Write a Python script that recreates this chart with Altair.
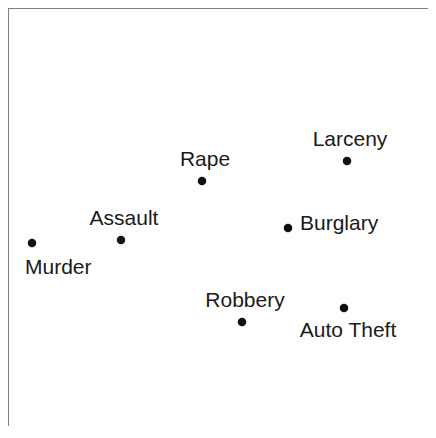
import altair as alt
import pandas as pd

# Crime categories and their positions on the two map dimensions
crimes = ["Murder", "Assault", "Rape", "Larceny", "Burglary", "Robbery", "Auto Theft"]
dim1 = [24, 113, 194, 339, 280, 234, 336]
dim2 = [195, 198, 257, 277, 210, 116, 130]

# where each label sits relative to its dot
label_side = {
    "Murder": "below_left",
    "Assault": "above",
    "Rape": "above",
    "Larceny": "above",
    "Burglary": "right",
    "Robbery": "above",
    "Auto Theft": "below",
}

df = pd.DataFrame({"crime": crimes, "d1": dim1, "d2": dim2})
df["side"] = df["crime"].map(label_side)

W, H = 420, 418
FONT = "Liberation Sans"

xs = alt.Scale(domain=[0, W], nice=False, zero=False)
ys = alt.Scale(domain=[430 - H, 430], nice=False, zero=False)

base = alt.Chart(df).encode(
    x=alt.X("d1:Q", scale=xs, axis=None),
    y=alt.Y("d2:Q", scale=ys, axis=None),
)

dots = base.mark_point(filled=True, size=72, color="#111111", opacity=1)

def labels(side, **kw):
    return base.transform_filter(alt.datum.side == side).mark_text(
        font=FONT, fontSize=21, color="#1a1a1a", **kw
    ).encode(text="crime:N")

above = labels("above", align="center", baseline="alphabetic", dx=3, dy=-15)
below = labels("below", align="center", baseline="alphabetic", dx=4, dy=29)
below_left = labels("below_left", align="left", baseline="alphabetic", dx=-7, dy=31)
right = labels("right", align="left", baseline="alphabetic", dx=12, dy=2)

left_border = alt.Chart(df).mark_rule(color="#808080", strokeWidth=2).encode(
    x=alt.value(0), y=alt.value(0), y2=alt.value(H)
)
top_border = alt.Chart(df).mark_rule(color="#808080", strokeWidth=2).encode(
    x=alt.value(0), x2=alt.value(W), y=alt.value(0)
)

chart = alt.layer(left_border, top_border, dots, above, below, below_left, right).properties(
    width=W, height=H, padding=0, autosize=alt.AutoSizeParams(type="none")
).configure_view(stroke=None)

chart.save("out.html", embed_options={"renderer": "svg", "actions": False})
